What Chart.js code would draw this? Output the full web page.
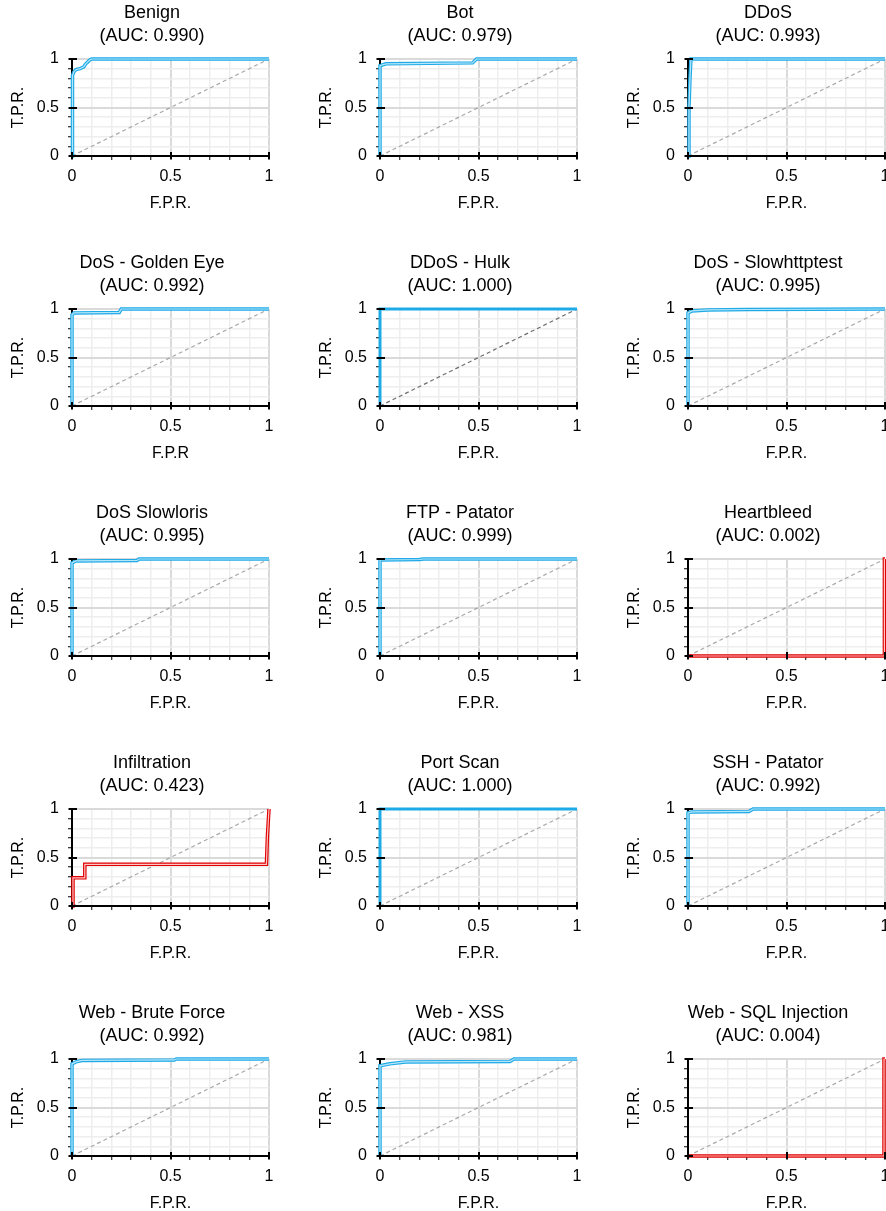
<!DOCTYPE html>
<html>
<head>
<meta charset="utf-8">
<script src="https://cdn.jsdelivr.net/npm/chart.js@4.4.1/dist/chart.umd.min.js"></script>
<style>
  html, body { margin: 0; padding: 0; background: #fff; overflow: hidden; }
  #grid { position: relative; width: 886px; height: 1211px; overflow: hidden; }
  #grid canvas { position: absolute; }
</style>
</head>
<body>
<div id="grid"></div>
<script>
// Noms des classes, AUC et libellés d'axes
const classNames = [
    'Benign', 'Bot', 'DDoS',
    'DoS - Golden Eye', 'DDoS - Hulk', 'DoS - Slowhttptest',
    'DoS Slowloris', 'FTP - Patator', 'Heartbleed',
    'Infiltration', 'Port Scan', 'SSH - Patator',
    'Web - Brute Force', 'Web - XSS', 'Web - SQL Injection'
];
const aucValues = ['0.990', '0.979', '0.993', '0.992', '1.000', '0.995', '0.995', '0.999',
                   '0.002', '0.423', '1.000', '0.992', '0.992', '0.981', '0.004'];
const xAxisLabels = ['F.P.R.', 'F.P.R.', 'F.P.R.', 'F.P.R', 'F.P.R.', 'F.P.R.', 'F.P.R.', 'F.P.R.',
                     'F.P.R.', 'F.P.R.', 'F.P.R.', 'F.P.R.', 'F.P.R.', 'F.P.R.', 'F.P.R.'];
const yAxisLabel = 'T.P.R.';
const tickLabels = ['0', '0.5', '1'];

// Courbes ROC (F.P.R. / T.P.R.)
const fprBenign = [0, 0, 0.005, 0.01, 0.02, 0.04, 0.06, 0.07, 0.08, 0.09, 0.1, 1];
const tprBenign = [0, 0.76, 0.83, 0.87, 0.89, 0.9, 0.92, 0.95, 0.97, 0.99, 1, 1];
const fprBot = [0, 0, 0.03, 0.47, 0.49, 1];
const tprBot = [0, 0.93, 0.95, 0.96, 1, 1];
const fprDdos = [0, 0.005, 0.01, 0.015, 1];
const tprDdos = [0, 0.5, 0.8, 1, 1];
const fprGoldenEye = [0, 0, 0.01, 0.24, 0.25, 1];
const tprGoldenEye = [0, 0.94, 0.96, 0.965, 1, 1];
const fprHulk = [0, 0, 1];
const tprHulk = [0, 1, 1];
const fprSlowhttptest = [0, 0, 0.02, 0.1, 0.3, 1];
const tprSlowhttptest = [0, 0.96, 0.98, 0.99, 0.995, 1];
const fprSlowloris = [0, 0, 0.02, 0.33, 0.34, 1];
const tprSlowloris = [0, 0.96, 0.98, 0.985, 1, 1];
const fprFtp = [0, 0, 0.2, 0.22, 1];
const tprFtp = [0, 0.99, 0.995, 1, 1];
const fprHeartbleed = [0, 0.997, 0.997, 1];
const tprHeartbleed = [0, 0, 1, 1];
const fprInfiltration = [0, 0.005, 0.005, 0.065, 0.065, 0.987, 0.992, 1];
const tprInfiltration = [0, 0, 0.29, 0.29, 0.43, 0.43, 0.72, 1];
const fprPortScan = [0, 0, 1];
const tprPortScan = [0, 1, 1];
const fprSsh = [0, 0, 0.02, 0.31, 0.33, 1];
const tprSsh = [0, 0.96, 0.97, 0.975, 1, 1];
const fprBruteForce = [0, 0, 0.02, 0.05, 0.52, 0.53, 1];
const tprBruteForce = [0, 0.95, 0.97, 0.985, 0.99, 1, 1];
const fprXss = [0, 0, 0.05, 0.13, 0.66, 0.68, 1];
const tprXss = [0, 0.93, 0.95, 0.97, 0.975, 1, 1];
const fprSql = [0, 0.995, 0.995, 1];
const tprSql = [0, 0, 1, 1];

// Diagonale (classifieur aléatoire)
const chanceFpr = [0, 1];
const chanceTpr = [0, 1];

const fprSeries = [fprBenign, fprBot, fprDdos, fprGoldenEye, fprHulk, fprSlowhttptest, fprSlowloris, fprFtp,
                   fprHeartbleed, fprInfiltration, fprPortScan, fprSsh, fprBruteForce, fprXss, fprSql];
const tprSeries = [tprBenign, tprBot, tprDdos, tprGoldenEye, tprHulk, tprSlowhttptest, tprSlowloris, tprFtp,
                   tprHeartbleed, tprInfiltration, tprPortScan, tprSsh, tprBruteForce, tprXss, tprSql];

// Styles
const curveColors = { good: ['#1eaae7', '#b8e6f9'], bad: ['#e00000', '#ffc4c4'] };
const solidCurve = [4, 10]; // Hulk et Port Scan : trait plein
const FONT = 'Arial, "Liberation Sans", sans-serif';

const isMajor = v => Math.abs(v * 2 - Math.round(v * 2)) < 1e-6;
const toPoints = (xs, ys) => xs.map((x, i) => ({ x: x, y: ys[i] }));

// Petits traits noirs vers l'intérieur aux graduations principales
const majorTicks = {
    id: 'majorTicks',
    afterDatasetsDraw(chart) {
        const { ctx, chartArea, scales } = chart;
        ctx.save();
        ctx.strokeStyle = '#000';
        ctx.lineWidth = 2;
        [0, 0.5, 1].forEach(v => {
            const px = Math.round(scales.x.getPixelForValue(v));
            ctx.beginPath();
            ctx.moveTo(px, chartArea.bottom + 3);
            ctx.lineTo(px, chartArea.bottom - 4);
            ctx.stroke();
            const py = Math.round(scales.y.getPixelForValue(v));
            ctx.beginPath();
            ctx.moveTo(chartArea.left - 3, py);
            ctx.lineTo(chartArea.left + 5, py);
            ctx.stroke();
        });
        ctx.restore();
    }
};

function axisOptions(title, isX) {
    return {
        type: 'linear',
        min: 0,
        max: 1,
        position: isX ? 'bottom' : 'left',
        afterFit: s => { if (isX) s.height = 64; else s.width = 72; },
        border: { display: true, color: '#000', width: 2 },
        grid: {
            color: c => isMajor(c.tick.value) ? '#dadada' : '#eeeeee',
            lineWidth: c => isMajor(c.tick.value) ? 2 : 1.5,
            tickColor: '#000',
            tickWidth: 1,
            tickLength: 4
        },
        ticks: {
            stepSize: 0.1,
            autoSkip: false,
            maxRotation: 0,
            padding: isX ? 7 : 9,
            color: '#000',
            font: { family: FONT, size: 16 },
            callback: v => isMajor(v) ? tickLabels[Math.round(v * 2)] : ''
        },
        title: {
            display: true,
            text: title,
            color: '#000',
            font: { family: FONT, size: 16 },
            padding: isX ? { top: 0, bottom: 7 } : { top: 9, bottom: 0 }
        }
    };
}

const grid = document.getElementById('grid');

classNames.forEach((name, i) => {
    const col = i % 3;
    const row = Math.floor(i / 3);
    const canvas = document.createElement('canvas');
    canvas.width = 304;
    canvas.height = 220;
    canvas.style.left = (col * 308) + 'px';
    canvas.style.top = (row * 250) + 'px';
    grid.appendChild(canvas);

    const auc = parseFloat(aucValues[i]);
    const colors = auc < 0.5 ? curveColors.bad : curveColors.good;
    const solid = solidCurve.includes(i);
    const points = toPoints(fprSeries[i], tprSeries[i]);

    const datasets = [{
        data: toPoints(chanceFpr, chanceTpr),
        borderColor: i === 4 ? '#6e6e6e' : '#a9a9a9',
        borderWidth: 1.2,
        borderDash: [4, 3],
        order: 3
    }, {
        data: points,
        borderColor: colors[0],
        borderWidth: solid ? 3 : 3.5,
        order: 1
    }];
    if (!solid) {
        datasets.push({
            data: points,
            borderColor: colors[1],
            borderWidth: 1.2,
            order: 0
        });
    }
    datasets.forEach(d => {
        d.pointRadius = 0;
        d.tension = 0;
        d.fill = false;
        d.clip = false;
    });

    new Chart(canvas.getContext('2d'), {
        type: 'line',
        data: { datasets: datasets },
        options: {
            responsive: false,
            devicePixelRatio: 1,
            animation: false,
            layout: { padding: 0 },
            plugins: {
                legend: { display: false },
                tooltip: { enabled: false },
                title: {
                    display: true,
                    text: [name, '(AUC: ' + aucValues[i] + ')'],
                    color: '#000',
                    font: { family: FONT, size: 18, weight: 'normal', lineHeight: '23px' },
                    padding: { top: 2, bottom: 11 }
                }
            },
            scales: {
                x: axisOptions(xAxisLabels[i], true),
                y: axisOptions(yAxisLabel, false),
                pad: {
                    type: 'linear',
                    axis: 'y',
                    position: 'right',
                    afterFit: s => { s.width = 35; },
                    grid: { display: false },
                    border: { display: false },
                    ticks: { display: false }
                }
            }
        },
        plugins: [majorTicks]
    });
});
</script>
</body>
</html>
